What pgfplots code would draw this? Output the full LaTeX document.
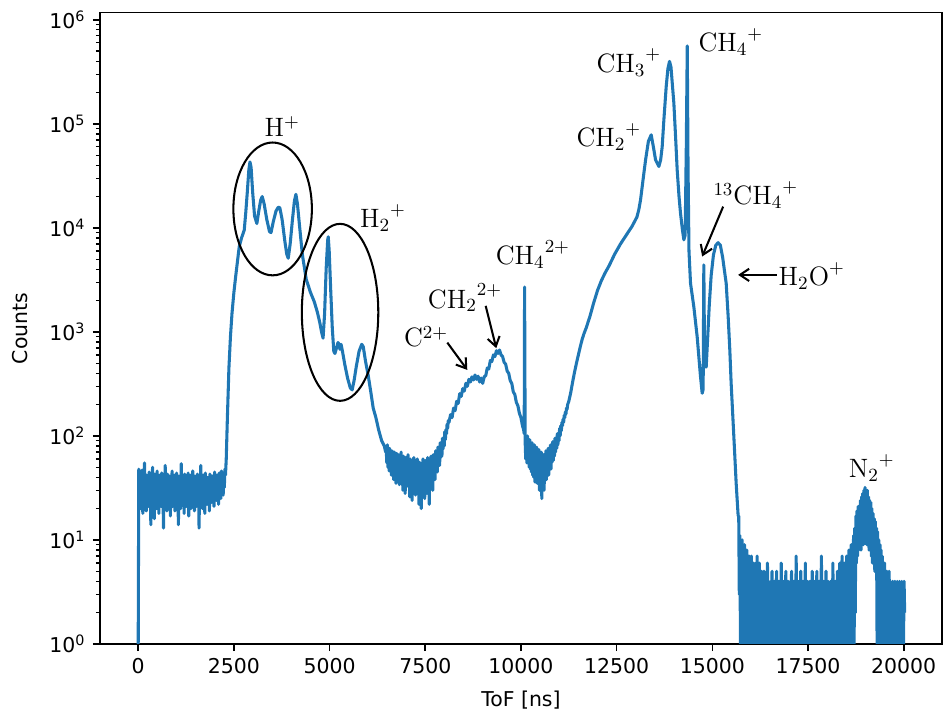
\documentclass[border=0pt]{standalone}
\usepackage{pgfplots}
\pgfplotsset{compat=1.18}
\usepackage{fontspec}
\newfontfamily\djv{DejaVu Sans}
\usetikzlibrary{arrows.meta}
\definecolor{c0}{HTML}{1F77B4}
\begin{document}
\begin{tikzpicture}
\begin{axis}[
  scale only axis, width=412pt, height=308.9pt,
  xmin=-1000, xmax=21000, ymode=log, ymin=1, ymax=1.17e6,
  xtick={0,2500,...,20000}, scaled x ticks=false,
  /pgf/number format/1000 sep={},
  /pgf/number format/assume math mode=true,
  log number format basis/.code 2 args={10\textsuperscript{\pgfmathprintnumber{#2}}},
  tick align=outside, tick pos=left,
  major tick length=3.5pt, minor tick length=2pt,
  every major tick/.append style={line width=0.8pt, black},
  every minor tick/.append style={line width=0.6pt, black},
  axis line style={line width=0.8pt},
  ticklabel style={font=\djv\fontsize{10}{12}\selectfont},
  label style={font=\djv\fontsize{10}{12}\selectfont},
  xlabel={ToF [ns]}, ylabel={Counts},
  xlabel style={at={(axis description cs:0.5,-0.0887)}, anchor=center},
  ylabel style={at={(axis description cs:-0.0947,0.5)}, anchor=center},
]
\addplot[c0, line width=1.5pt, line join=round, no markers] coordinates {
(0,1) (15,48)
(30,24) (45,44) (60,20) (75,38) (90,26) (105,47) (120,18) (135,40) (150,23) (165,55) (180,27) (195,36)
(210,19) (225,42) (240,25) (255,39) (270,21) (285,45) (300,28) (315,35) (330,14) (345,41) (360,24) (375,50)
(390,22) (405,37) (420,16) (435,43) (450,26) (465,34) (480,20) (495,46) (510,25) (525,38) (540,18) (555,42)
(570,29) (585,36) (600,21) (615,44) (630,24) (645,33) (660,13) (675,40) (690,27) (705,52) (720,22) (735,37)
(750,19) (765,43) (780,26) (795,35) (810,23) (825,41) (840,17) (855,38) (870,28) (885,46) (900,21) (915,36)
(930,25) (945,42) (960,19) (975,39) (990,24) (1005,44) (1020,27) (1035,34) (1050,14) (1065,41) (1080,23)
(1095,37) (1110,20) (1125,54) (1140,26) (1155,35) (1170,22) (1185,40) (1200,18) (1215,43) (1230,25)
(1245,36) (1260,21) (1275,39) (1290,28) (1305,44) (1320,17) (1335,37) (1350,24) (1365,42) (1380,20)
(1395,35) (1410,26) (1425,46) (1440,22) (1455,38) (1470,19) (1485,41) (1500,25) (1515,34) (1530,21)
(1545,43) (1560,27) (1575,36) (1590,13) (1605,40) (1620,23) (1635,52) (1650,26) (1665,37) (1680,20)
(1695,42) (1710,24) (1725,35) (1740,18) (1755,44) (1770,27) (1785,38) (1800,22) (1815,40) (1830,25)
(1845,34) (1860,19) (1875,43) (1890,28) (1905,36) (1920,23) (1935,41) (1950,26) (1965,38) (1980,21)
(1995,45) (2010,27) (2025,35) (2040,24) (2055,42) (2070,29) (2085,37) (2100,22) (2115,44) (2130,28)
(2145,39) (2160,25) (2175,46) (2190,30) (2205,40) (2220,27) (2235,44) (2250,32) (2265,48) (2280,42)
(2300,60) (2330,150) (2370,450) (2410,900) (2450,1500) (2500,2400) (2550,3500) (2600,5000) (2640,6600)
(2700,8000) (2770,9500) (2810,14000) (2850,22000) (2890,36000) (2920,43000) (2950,38000) (2990,22000)
(3040,13000) (3100,11000) (3150,14500) (3200,18500) (3240,20000) (3290,17000) (3360,12000) (3430,9200)
(3470,9000) (3530,11500) (3600,14500) (3660,15800) (3700,15600) (3760,12000) (3830,7500) (3880,5600)
(3920,5100) (3970,7000) (4030,12000) (4080,18000) (4120,21000) (4160,17000) (4220,10000) (4290,5500)
(4390,3200) (4500,2400) (4600,1950) (4680,1550) (4740,1250) (4790,1000) (4830,870) (4870,1500)
(4910,4000) (4950,7600) (4965,8200) (4990,6000) (5030,2500) (5070,1100) (5110,650) (5140,620)
(5180,700) (5220,790) (5250,760) (5270,680) (5300,760) (5340,640) (5400,480) (5470,360) (5540,290)
(5590,277) (5640,340) (5700,470) (5770,650) (5840,760) (5880,720) (5940,520) (6010,380) (6080,260)
(6140,185) (6210,150) (6280,115) (6360,90) (6430,80) (6465,70)
(6480,75) (6495,55) (6510,82) (6525,50) (6540,70) (6555,46) (6570,76) (6585,52) (6600,66) (6615,42)
(6630,72) (6645,48) (6660,64) (6675,38) (6690,70) (6705,45) (6720,62) (6735,35) (6750,68) (6765,44)
(6780,58) (6795,40) (6810,66) (6825,34) (6840,60) (6855,42) (6870,70) (6885,36) (6900,56) (6915,30)
(6930,64) (6945,40) (6960,58) (6975,28) (6990,62) (7005,38) (7020,55) (7035,33) (7050,66) (7065,40)
(7080,52) (7095,26) (7110,60) (7125,36) (7140,54) (7155,24) (7170,58) (7185,38) (7200,62) (7215,32)
(7230,50) (7245,27) (7260,56) (7275,35) (7290,60) (7305,30) (7320,52) (7335,22) (7350,56) (7365,34)
(7380,48) (7395,20) (7410,54) (7425,36) (7440,60) (7455,30) (7470,52) (7485,25) (7500,58) (7515,35)
(7530,50) (7545,28) (7560,62) (7575,38) (7590,54) (7605,22) (7620,58) (7635,36) (7650,64) (7665,40)
(7680,56) (7695,30) (7710,66) (7725,44) (7740,60) (7755,38) (7770,72) (7785,48) (7800,66) (7815,45)
(7830,78) (7845,54) (7860,72) (7875,52) (7890,86) (7905,62) (7920,80) (7935,64) (7950,95) (7965,75)
(7980,92) (7995,80) (8010,110) (8025,92) (8040,115) (8055,105) (8070,130) (8085,118) (8100,140)
(8120,135) (8160,160) (8200,150) (8240,185) (8280,175) (8320,215) (8360,205) (8400,255) (8440,240)
(8480,285) (8520,270) (8560,320) (8600,300) (8640,350) (8680,330) (8720,370) (8760,345) (8800,385)
(8840,350) (8880,375) (8920,330) (8960,360) (9000,320) (9040,370) (9080,380) (9120,450) (9160,440)
(9200,530) (9240,520) (9280,600) (9320,580) (9360,660) (9400,620) (9440,670) (9480,600) (9520,580)
(9560,510) (9600,490) (9640,420) (9680,400) (9720,340) (9760,320) (9800,265) (9840,250) (9880,210)
(9920,195) (9960,165) (10000,150) (10040,125) (10070,115) (10085,105) (10095,2700) (10110,88)
(10125,60) (10140,95) (10155,55) (10170,100) (10185,58) (10200,85) (10215,50) (10230,92) (10245,48)
(10260,80) (10275,45) (10290,86) (10305,42) (10320,75) (10335,40) (10350,82) (10365,36) (10380,70)
(10395,44) (10410,78) (10425,35) (10440,68) (10455,40) (10470,74) (10485,30) (10500,62) (10515,38)
(10530,70) (10545,25) (10560,60) (10575,34) (10590,66) (10605,30) (10620,64) (10635,40) (10650,72)
(10665,38) (10680,68) (10695,45) (10710,76) (10725,42) (10740,72) (10755,50) (10770,82) (10785,48)
(10800,78) (10815,56) (10830,88) (10845,58) (10860,84) (10875,64) (10890,95) (10905,70) (10920,90)
(10935,76) (10950,105) (10965,82) (10980,100) (10995,90) (11010,118) (11025,100) (11040,125)
(11055,112) (11070,135) (11085,125) (11100,145) (11115,135) (11130,158) (11145,150) (11160,170)
(11175,162) (11190,185) (11205,180) (11220,200) (11250,215)
(11300,260) (11350,330) (11400,410) (11450,500) (11500,600) (11550,720) (11600,850) (11650,970)
(11700,1080) (11800,1400) (11900,1900) (12000,2500) (12100,3100) (12200,3700) (12300,4300)
(12450,5600) (12600,7000) (12750,8500) (12900,10300) (13030,12700) (13080,15000) (13125,18600)
(13190,29000) (13256,45000) (13330,68000) (13403,78400) (13460,60000) (13517,45000) (13603,38900)
(13650,45000) (13690,60000) (13734,109000) (13795,228000) (13840,340000) (13882,398000)
(13920,350000) (13995,158000) (14040,75000) (14082,36000) (14130,20000) (14169,13800) (14220,9500)
(14256,7670) (14290,8500) (14320,60000) (14345,560000) (14365,40000) (14390,6000) (14430,2940)
(14517,1740) (14604,900) (14691,372) (14735,257) (14760,280) (14778,4400) (14798,500) (14822,464)
(14840,460) (14880,900) (14920,1800) (14970,3500) (15030,5500) (15090,6800) (15150,7200)
(15210,6800) (15270,5200) (15320,3800) (15362,2940) (15414,1400) (15457,670) (15492,320)
(15536,153) (15580,73) (15623,35) (15675,17)
(15690,17) (15705,3) (15720,11) (15735,1) (15750,9) (15765,2) (15780,10) (15795,1) (15810,8) (15825,3)
(15840,9) (15855,1) (15870,7) (15885,2) (15900,8) (15915,1) (15930,6) (15945,3) (15960,7) (15975,1)
(15990,5) (16005,2) (16020,7) (16035,1) (16050,5) (16065,2) (16080,6) (16095,1) (16110,4) (16125,2)
(16140,6) (16155,1) (16170,7) (16185,1) (16200,4) (16215,2) (16230,6) (16245,1) (16260,4) (16275,1)
(16290,5) (16305,2) (16320,3) (16335,1) (16350,5) (16365,1) (16380,4) (16395,2) (16410,3) (16425,1)
(16440,6) (16455,1) (16470,4) (16485,2) (16500,3) (16515,1) (16530,4) (16545,1) (16560,5) (16575,2)
(16590,3) (16605,1) (16620,4) (16635,1) (16650,2) (16665,2) (16680,5) (16695,1) (16710,3) (16725,1)
(16740,4) (16755,2) (16770,3) (16785,1) (16800,6) (16815,1) (16830,3) (16845,2) (16860,4) (16875,1)
(16890,3) (16905,1) (16920,5) (16935,2) (16950,3) (16965,1) (16980,4) (16995,1) (17010,2) (17025,2)
(17040,4) (17055,1) (17070,5) (17085,1) (17100,3) (17115,2) (17130,4) (17145,1) (17160,3) (17175,1)
(17190,7) (17205,2) (17220,3) (17235,1) (17250,4) (17265,1) (17280,3) (17295,2) (17310,5) (17325,1)
(17340,3) (17355,1) (17370,4) (17385,2) (17400,3) (17415,1) (17430,6) (17445,1) (17460,3) (17475,2)
(17490,4) (17505,1) (17520,3) (17535,1) (17550,4) (17565,2) (17580,2) (17595,1) (17610,5) (17625,1)
(17640,3) (17655,2) (17670,4) (17685,1) (17700,3) (17715,1) (17730,5) (17745,2) (17760,3) (17775,1)
(17790,4) (17805,1) (17820,3) (17835,2) (17850,7) (17865,1) (17880,3) (17895,1) (17910,4) (17925,2)
(17940,3) (17955,1) (17970,5) (17985,1) (18000,2) (18015,2) (18030,4) (18045,1) (18060,3) (18075,1)
(18090,4) (18105,2) (18120,3) (18135,1) (18150,6) (18165,1) (18180,3) (18195,2) (18210,4) (18225,1)
(18240,3) (18255,1) (18270,5) (18285,2) (18300,4) (18315,1) (18330,6) (18345,1) (18360,4) (18375,2)
(18390,7) (18405,1) (18420,4) (18435,1) (18450,6) (18465,2) (18480,5) (18495,1) (18510,7) (18525,1)
(18540,5) (18555,2) (18570,8) (18585,1) (18600,6) (18615,2) (18630,9) (18645,1) (18660,8) (18675,2)
(18690,11) (18705,1) (18720,13) (18735,2) (18750,17) (18765,6) (18780,19) (18795,7) (18810,21) (18825,8)
(18840,20) (18855,9) (18870,24) (18885,8) (18900,26) (18915,10) (18930,28) (18945,9) (18960,30) (18975,11)
(18990,32) (19005,10) (19020,29) (19035,9) (19050,30) (19065,10) (19080,26) (19095,8) (19110,24) (19125,9)
(19140,23) (19155,7) (19170,20) (19185,6) (19200,18) (19215,7) (19230,16) (19245,5) (19260,15) (19275,6)
(19290,13) (19305,1) (19320,12) (19335,2) (19350,10) (19365,1) (19380,9) (19395,2) (19410,8) (19425,1)
(19440,7) (19455,2) (19470,6) (19485,1) (19500,6) (19515,2) (19530,5) (19545,1) (19560,5) (19575,2)
(19590,4) (19605,1) (19620,5) (19635,1) (19650,4) (19665,2) (19680,3) (19695,1) (19710,4) (19725,1)
(19740,3) (19755,2) (19770,4) (19785,1) (19800,3) (19815,1) (19830,4) (19845,2) (19860,3) (19875,1)
(19890,4) (19905,1) (19920,3) (19935,2) (19950,4) (19965,1) (19980,3) (19995,1) (20010,4) (20025,2)
};
\begin{scope}[font=\fontsize{13}{15}\selectfont]
\node at (axis cs:3760,93500) {$\mathrm{H}^{+}$};
\node at (axis cs:6397,12500) {$\mathrm{H_2}^{+}$};
\node at (axis cs:7520,895) {$\mathrm{C}^{2+}$};
\node at (axis cs:8538,2120) {$\mathrm{CH_2}^{2+}$};
\node at (axis cs:10313,5500) {$\mathrm{CH_4}^{2+}$};
\node at (axis cs:12298,75000) {$\mathrm{CH_2}^{+}$};
\node at (axis cs:12820,386000) {$\mathrm{CH_3}^{+}$};
\node at (axis cs:15483,614000) {$\mathrm{CH_4}^{+}$};
\node at (axis cs:16136,20700) {$^{13}\mathrm{CH_4}^{+}$};
\node at (axis cs:17598,3450) {$\mathrm{H_2O}^{+}$};
\node at (axis cs:19165,49) {$\mathrm{N_2}^{+}$};
\end{scope}
\draw[line width=1pt] (axis cs:3512,15200) ellipse [x radius=19.2pt, y radius=32.5pt];
\draw[line width=1pt] (axis cs:5274,1541) ellipse [x radius=18.7pt, y radius=43.3pt];
\begin{scope}[line width=1pt, -{Straight Barb[length=4.5pt,width=6pt]}]
\draw (axis cs:8076,789) -- (axis cs:8598,431);
\draw (axis cs:9079,1778) -- (axis cs:9355,697);
\draw (axis cs:15283,16000) -- (axis cs:14735,5300);
\draw (axis cs:16685,3530) -- (axis cs:15674,3530);
\end{scope}
\end{axis}
\pgfresetboundingbox
\path ([shift={(-48.9pt,-33.8pt)}]current axis.south west) rectangle ([shift={(1pt,6.2pt)}]current axis.north east);
\end{tikzpicture}
\end{document}
